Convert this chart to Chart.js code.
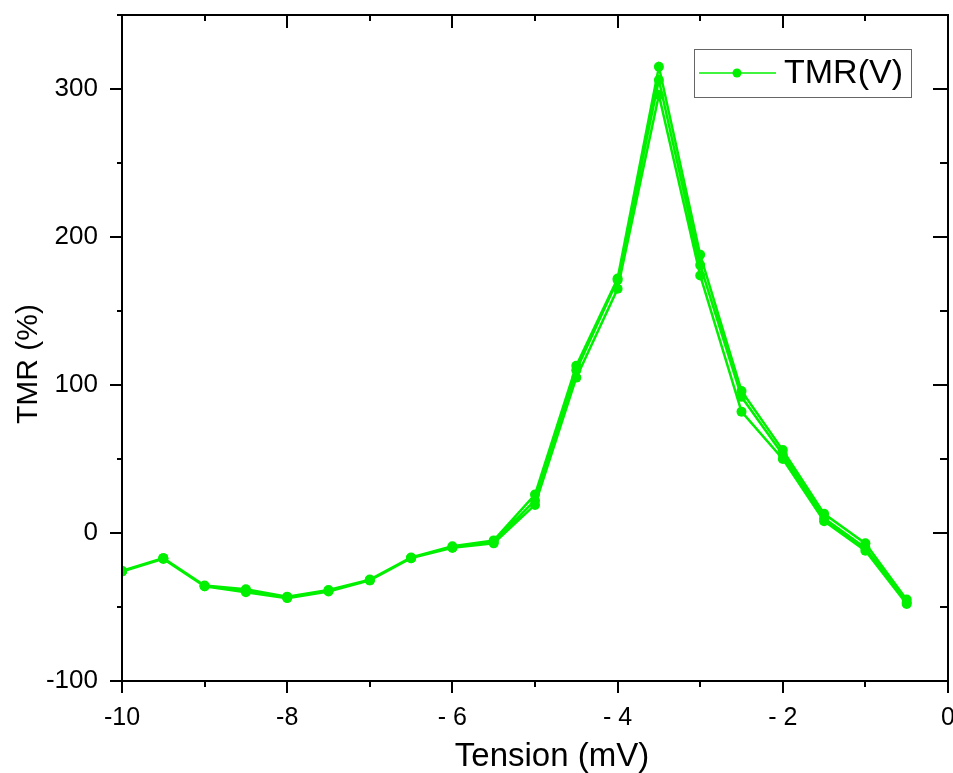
<!DOCTYPE html>
<html>
<head>
<meta charset="UTF-8" />
<title>TMR(V)</title>
<script src="https://cdn.jsdelivr.net/npm/chart.js"></script>
<style>
  html, body { margin: 0; padding: 0; background: #fff; }
  #wrap { width: 953px; height: 773px; }
</style>
</head>
<body>
<div id="wrap"><canvas id="tmr" width="953" height="773"></canvas></div>
<script>
// tension values (mV), one per measured step
const tension = [-10, -9.5, -9, -8.5, -8, -7.5, -7, -6.5, -6, -5.5, -5, -4.5, -4, -3.5, -3, -2.5, -2, -1.5, -1, -0.5];

// three sweeps (TMR in %)
const sweep1 = [-25.5, -17, -35.5, -38, -43, -38.5, -31.5, -16.5, -9, -5, 26, 113, 172, 315, 188, 96, 56, 13, -7, -45];
const sweep2 = [-26, -17, -36, -39, -43.5, -39, -32, -17, -10, -6, 22, 110, 171, 306, 181, 92, 53, 10, -10, -47];
const sweep3 = [-26, -17.5, -36, -40, -44, -39.5, -32, -17, -10, -7, 19, 105, 165, 296, 174, 82, 50, 8, -12, -48];

const xTicks = [-10, -8, -6, -4, -2, 0];
const xTickLabels = ["-10", "-8", "- 6", "- 4", "- 2", "0"];
const yTicks = [-100, 0, 100, 200, 300];

// forward, backward, forward : one continuous measurement
const points = [];
tension.forEach((v, i) => points.push({ x: v, y: sweep1[i] }));
for (let i = tension.length - 1; i >= 0; i--) points.push({ x: tension[i], y: sweep2[i] });
tension.forEach((v, i) => points.push({ x: v, y: sweep3[i] }));

const green = "#00f000";
const font = "Arial, 'Liberation Sans', sans-serif";

// frame ticks: outward on left/bottom, inward on top/right
const frameTicks = {
  id: "frameTicks",
  afterDraw(chart) {
    const { ctx, chartArea: a, scales } = chart;
    const xs = scales.x, ys = scales.y;
    ctx.save();
    ctx.strokeStyle = "#000";
    ctx.lineWidth = 2;
    ctx.beginPath();
    for (let v = -10; v <= 0; v += 1) {
      const px = Math.round(xs.getPixelForValue(v));
      const major = v % 2 === 0;
      ctx.moveTo(px, a.bottom); ctx.lineTo(px, a.bottom + (major ? 12 : 6));
      ctx.moveTo(px, a.top); ctx.lineTo(px, a.top + (major ? 13 : 6));
    }
    for (let v = -100; v <= 350; v += 50) {
      const py = Math.round(ys.getPixelForValue(v));
      const major = v % 100 === 0;
      ctx.moveTo(a.left, py); ctx.lineTo(a.left - (major ? 12 : 5), py);
      ctx.moveTo(a.right, py); ctx.lineTo(a.right - (major ? 15 : 8), py);
    }
    ctx.stroke();
    ctx.strokeRect(a.left, a.top, a.right - a.left, a.bottom - a.top);

    // axis titles
    ctx.fillStyle = "#000";
    ctx.textAlign = "center";
    ctx.textBaseline = "alphabetic";
    ctx.font = "33px " + font;
    ctx.fillText("Tension (mV)", a.left + 430, a.bottom + 85);
    ctx.translate(37, a.top + 349);
    ctx.rotate(-Math.PI / 2);
    ctx.font = "30px " + font;
    ctx.fillText("TMR (%)", 0, 0);
    ctx.restore();
  }
};

// legend box inside the plot, top right
const boxLegend = {
  id: "boxLegend",
  afterDraw(chart) {
    const { ctx, chartArea: a } = chart;
    const label = chart.data.datasets[0].label;
    const x0 = a.right - 254, y0 = a.top + 34, w = 217, h = 48;
    ctx.save();
    ctx.fillStyle = "#fff";
    ctx.fillRect(x0, y0, w, h);
    ctx.strokeStyle = "#666";
    ctx.lineWidth = 1;
    ctx.strokeRect(x0 + 0.5, y0 + 0.5, w, h);
    const ly = y0 + 24;
    ctx.strokeStyle = green;
    ctx.lineWidth = 1.5;
    ctx.beginPath();
    ctx.moveTo(x0 + 5, ly); ctx.lineTo(x0 + 82, ly);
    ctx.stroke();
    ctx.fillStyle = green;
    ctx.beginPath();
    ctx.arc(x0 + 43, ly, 4.5, 0, Math.PI * 2);
    ctx.fill();
    ctx.fillStyle = "#000";
    ctx.font = "34px " + font;
    ctx.textBaseline = "middle";
    ctx.fillText(label, x0 + 90, ly + 1);
    ctx.restore();
  }
};

new Chart(document.getElementById("tmr"), {
  type: "scatter",
  data: {
    datasets: [{
      label: "TMR(V)",
      data: points,
      showLine: true,
      borderColor: green,
      backgroundColor: green,
      borderWidth: 2.5,
      pointRadius: 5,
      pointBorderWidth: 0,
      tension: 0
    }]
  },
  options: {
    responsive: false,
    animation: false,
    devicePixelRatio: 1,
    layout: { padding: { top: 15, right: 4, left: 0, bottom: 0 } },
    plugins: { legend: { display: false }, tooltip: { enabled: false } },
    scales: {
      x: {
        type: "linear",
        min: -10,
        max: 0,
        afterFit(scale) {
          scale.height = 92;
          scale.paddingLeft = 0;
          scale.paddingRight = 0;
        },
        afterBuildTicks(scale) { scale.ticks = xTicks.map(v => ({ value: v })); },
        grid: { display: false, drawTicks: false },
        border: { display: false },
        ticks: {
          autoSkip: false,
          maxRotation: 0,
          padding: 22,
          color: "#000",
          font: { family: font, size: 25 },
          callback: (v) => xTickLabels[xTicks.indexOf(v)]
        }
      },
      y: {
        type: "linear",
        min: -100,
        max: 350,
        afterFit(scale) {
          scale.width = 122;
          scale.paddingTop = 0;
          scale.paddingBottom = 0;
        },
        afterBuildTicks(scale) { scale.ticks = yTicks.map(v => ({ value: v })); },
        grid: { display: false, drawTicks: false },
        border: { display: false },
        ticks: {
          padding: 24,
          color: "#000",
          font: { family: font, size: 26 }
        }
      }
    }
  },
  plugins: [frameTicks, boxLegend]
});
</script>
</body>
</html>
